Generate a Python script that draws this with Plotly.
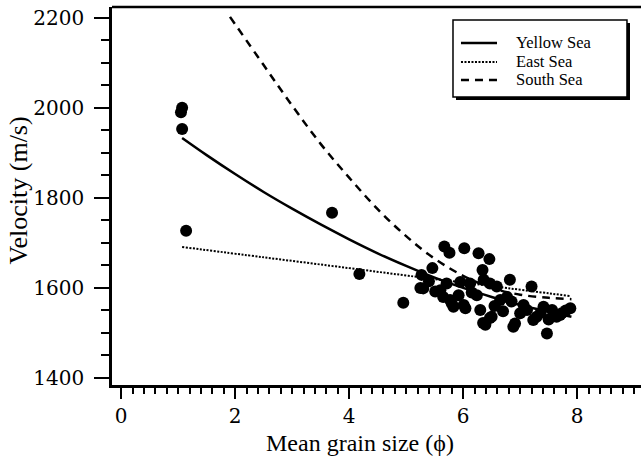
import plotly.graph_objects as go

# Measured samples: mean grain size (phi) vs. sound velocity (m/s)
grain_size = [
    1.07, 1.05, 1.07, 1.14, 3.70, 4.18, 4.95,
    5.67, 5.76, 6.02, 6.27, 6.46, 5.46, 5.27, 6.34, 5.30, 5.51, 5.71, 5.77,
    6.01, 6.12, 6.36, 6.47, 6.30, 6.47, 6.39, 5.92, 6.24, 5.83, 5.25,
    6.82, 7.20, 6.59, 6.65, 6.50, 7.00, 6.91, 7.12, 7.29, 7.47, 7.56, 7.73,
    7.88, 7.41, 7.64, 7.23, 6.88, 7.06, 6.35, 6.04, 5.80, 5.65, 5.95, 6.77,
    6.85, 7.36, 7.80, 5.60, 6.15, 6.55, 6.70, 7.50, 7.70, 5.40,
]
velocity = [
    2000, 1990, 1953, 1727, 1767, 1631, 1567,
    1692, 1678, 1688, 1677, 1664, 1644, 1629, 1640, 1599, 1592, 1610, 1573,
    1562, 1610, 1618, 1610, 1551, 1533, 1518, 1584, 1584, 1558, 1600,
    1618, 1603, 1603, 1573, 1536, 1544, 1521, 1551, 1536, 1499, 1551, 1544,
    1555, 1558, 1536, 1529, 1514, 1562, 1522, 1555, 1566, 1580, 1613, 1580,
    1570, 1545, 1550, 1595, 1590, 1560, 1548, 1530, 1540, 1615,
]

# Regression curves for each sea
yellow_x = [1.07, 1.5, 2.0, 2.5, 3.0, 3.5, 4.0, 4.5, 5.0, 5.5, 6.0, 6.5, 7.0, 7.5, 7.9]
yellow_y = [1933, 1895, 1853, 1813, 1776, 1741, 1708, 1677, 1649, 1623, 1600, 1580, 1562, 1547, 1536]

east_x = [1.07, 2.5, 4.0, 5.04, 6.5, 7.88]
east_y = [1691, 1668, 1644, 1627, 1604, 1582]

south_x = [1.91, 2.5, 3.0, 3.5, 4.0, 4.5, 5.0, 5.5, 6.0, 6.5, 7.0, 7.5, 7.9]
south_y = [2202, 2095, 2005, 1920, 1845, 1775, 1715, 1665, 1627, 1600, 1585, 1578, 1575]

legend_names = ["Yellow Sea", "East Sea", "South Sea"]
legend_dash = ["solid", "2px,1.5px", "8px,6px"]
legend_width = [2.5, 2, 2.5]

SERIF = "'Liberation Serif', 'Times New Roman', serif"
TICK_FONT = dict(family="'DejaVu Serif', serif", size=20, color="black")

fig = go.Figure()

fig.add_trace(go.Scatter(
    x=grain_size, y=velocity, mode="markers",
    marker=dict(size=12, color="black"),
    showlegend=False, cliponaxis=False,
))
fig.add_trace(go.Scatter(
    x=yellow_x, y=yellow_y, mode="lines", name=legend_names[0], showlegend=False,
    line=dict(color="black", width=legend_width[0], dash=legend_dash[0], shape="spline"),
))
fig.add_trace(go.Scatter(
    x=east_x, y=east_y, mode="lines", name=legend_names[1], showlegend=False,
    line=dict(color="black", width=legend_width[1], dash=legend_dash[1], shape="spline"),
))
fig.add_trace(go.Scatter(
    x=south_x, y=south_y, mode="lines", name=legend_names[2], showlegend=False,
    line=dict(color="black", width=legend_width[2], dash=legend_dash[2], shape="spline"),
))

# Legend frame with drop shadow, line keys and labels (paper coordinates)
shapes = [
    dict(type="rect", xref="paper", yref="paper", x0=0.6503, x1=0.9792, y0=0.754, y1=0.9577,
         fillcolor="black", line=dict(width=0), layer="above"),
    dict(type="rect", xref="paper", yref="paper", x0=0.6446, x1=0.9735, y0=0.7619, y1=0.9656,
         fillcolor="white", line=dict(color="black", width=1.5), layer="above"),
    dict(type="line", xref="paper", yref="paper", x0=0, x1=1, y0=1, y1=1,
         line=dict(color="black", width=2.5), layer="above"),
]
annotations = []
key_rows = [0.9048, 0.8545, 0.8069]
for name, dash, w, yk in zip(legend_names, legend_dash, legend_width, key_rows):
    shapes.append(dict(type="line", xref="paper", yref="paper", x0=0.6597, x1=0.7278, y0=yk, y1=yk,
                       line=dict(color="black", width=w, dash=dash), layer="above"))
    annotations.append(dict(xref="paper", yref="paper", x=0.7599, y=yk, xanchor="left", yanchor="middle",
                            text=name, showarrow=False,
                            font=dict(family=SERIF, size=16.5, color="black")))

# Axis titles
annotations.append(dict(xref="paper", yref="paper", x=0.469, y=-0.153, xanchor="center", yanchor="middle",
                        text="Mean grain size (\u03d5)", showarrow=False,
                        font=dict(family=SERIF, size=24, color="black")))
annotations.append(dict(xref="paper", yref="paper", x=-0.175, y=0.516, xanchor="center", yanchor="middle",
                        text="Velocity (m/s)", showarrow=False, textangle=-90,
                        font=dict(family=SERIF, size=26, color="black")))

fig.update_layout(
    width=641, height=458,
    margin=dict(l=112, r=0, t=7, b=73),
    paper_bgcolor="white", plot_bgcolor="white",
    font=dict(family=SERIF, color="black"),
    shapes=shapes, annotations=annotations,
    showlegend=False,
    xaxis=dict(
        range=[-0.16, 9.12], showgrid=False, zeroline=False,
        showline=True, linecolor="black", linewidth=2.5,
        ticks="outside", ticklen=11, tickwidth=2, tickcolor="black",
        tick0=0, dtick=2, ticklabelstandoff=0,
        minor=dict(ticks="outside", ticklen=6, tickwidth=1.5, tickcolor="black", dtick=0.2),
        tickfont=TICK_FONT,
    ),
    yaxis=dict(
        range=[1384.4, 2224], showgrid=False, zeroline=False,
        showline=True, linecolor="black", linewidth=2.5,
        ticks="outside", ticklen=15, tickwidth=2, tickcolor="black",
        tick0=1400, dtick=200, ticklabelstandoff=6,
        minor=dict(ticks="outside", ticklen=8, tickwidth=1.5, tickcolor="black", dtick=50),
        tickfont=TICK_FONT,
    ),
)

fig.write_html("out.html")
